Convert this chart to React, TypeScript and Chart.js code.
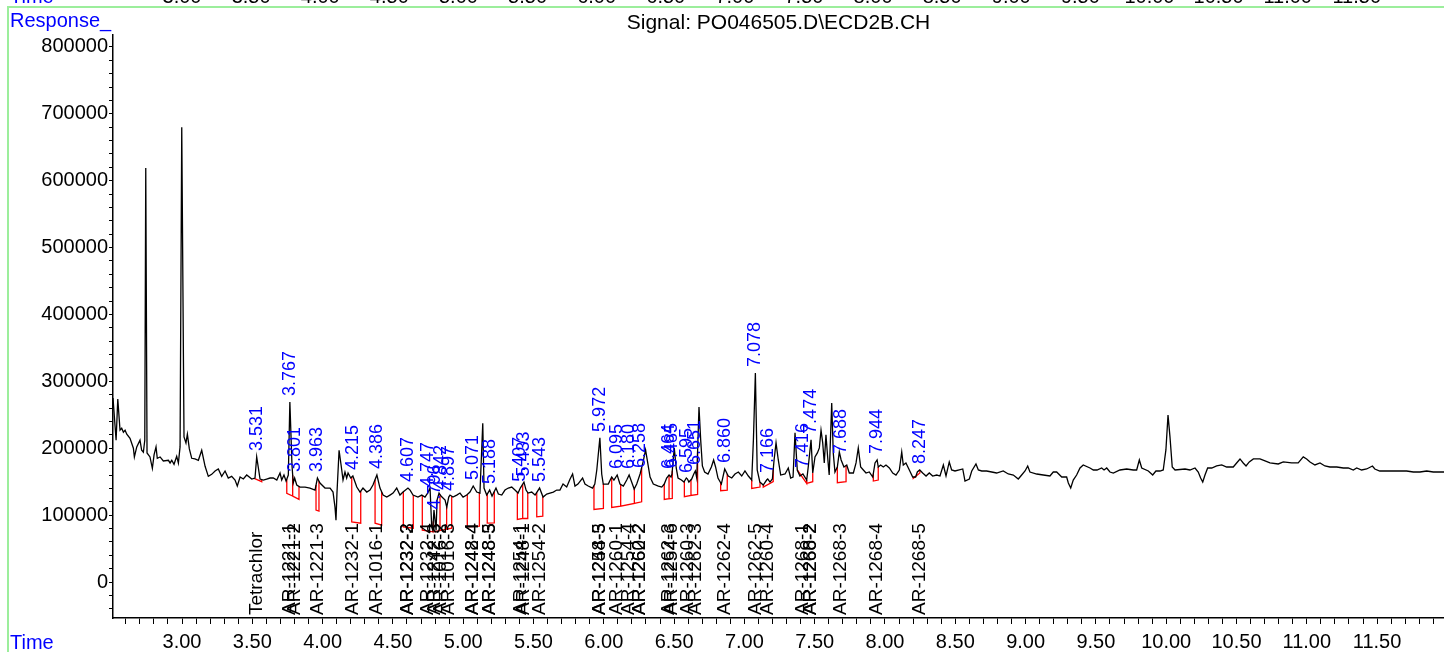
import React, { useEffect, useRef } from "react";
import { Chart, registerables } from "chart.js";

Chart.register(...registerables);

// ---- Data ----
// Chromatogram trace: [retention time (min), response]
const tracePoints: [number, number][] = [
  [2.509, 275000], [2.531, 212000], [2.543, 273500], [2.559, 227000], [2.571, 230000], [2.583, 224000],
  [2.595, 227000], [2.607, 221000], [2.630, 215000], [2.654, 200000], [2.661, 187000], [2.678, 202000],
  [2.701, 212000], [2.713, 197000], [2.725, 194000], [2.735, 212000], [2.742, 619000], [2.751, 193000],
  [2.772, 187000], [2.789, 170000], [2.801, 190000], [2.815, 202000], [2.824, 185000], [2.844, 187000],
  [2.867, 181000], [2.903, 182000], [2.915, 178000], [2.927, 182000], [2.943, 176000], [2.962, 188000],
  [2.974, 178000], [2.986, 202000], [2.998, 680000], [3.014, 217000], [3.028, 208000], [3.038, 221000],
  [3.052, 199000], [3.069, 185000], [3.092, 184000], [3.116, 182000], [3.140, 197000], [3.164, 173000],
  [3.187, 158000], [3.211, 161000], [3.235, 166000], [3.258, 169000], [3.282, 158000], [3.306, 166000],
  [3.329, 155500], [3.353, 158000], [3.377, 152500], [3.393, 143500], [3.413, 157000], [3.436, 154000],
  [3.460, 160000], [3.496, 154000], [3.519, 155500], [3.531, 187000], [3.555, 154000], [3.578, 152500],
  [3.602, 154000], [3.626, 155500], [3.649, 155500], [3.674, 152500], [3.697, 163000], [3.709, 152500],
  [3.725, 160000], [3.740, 151000], [3.756, 160000], [3.767, 269000], [3.782, 175000], [3.791, 148000],
  [3.801, 155500], [3.816, 145000], [3.839, 142000], [3.875, 142000], [3.910, 140500], [3.946, 137500],
  [3.963, 155500], [3.981, 148000], [4.017, 140500], [4.053, 140500], [4.074, 134500], [4.088, 112000],
  [4.095, 92500], [4.102, 133000], [4.117, 197000], [4.136, 167500], [4.145, 152500], [4.159, 164500],
  [4.171, 155500], [4.181, 163000], [4.200, 155500], [4.215, 158500], [4.243, 142000], [4.266, 134500],
  [4.287, 140500], [4.314, 134500], [4.337, 137500], [4.358, 145000], [4.386, 160000], [4.408, 140500],
  [4.430, 130000], [4.456, 127000], [4.479, 130000], [4.501, 133000], [4.527, 140500], [4.550, 130000],
  [4.572, 134500], [4.607, 140500], [4.622, 137500], [4.643, 130000], [4.678, 127000], [4.705, 130000],
  [4.728, 127000], [4.747, 133000], [4.764, 140500], [4.776, 82000], [4.783, 77500], [4.792, 107500],
  [4.807, 77500], [4.814, 122500], [4.828, 133000], [4.842, 128500], [4.871, 122500], [4.883, 112000],
  [4.897, 127000], [4.906, 130000], [4.927, 127000], [4.954, 130000], [4.977, 133000], [4.999, 127000],
  [5.025, 130000], [5.048, 134500], [5.071, 143500], [5.096, 134500], [5.119, 133000], [5.139, 237500],
  [5.148, 140500], [5.167, 130000], [5.188, 137500], [5.205, 128500], [5.233, 140500], [5.250, 131500],
  [5.274, 130000], [5.297, 137500], [5.321, 140500], [5.345, 142000], [5.368, 137500], [5.390, 133000],
  [5.406, 140500], [5.432, 149500], [5.447, 137500], [5.461, 133000], [5.487, 134500], [5.511, 130000],
  [5.543, 140500], [5.568, 127000], [5.594, 131500], [5.617, 133000], [5.641, 134500], [5.665, 137500],
  [5.688, 137500], [5.710, 146500], [5.736, 142000], [5.760, 154000], [5.778, 161500], [5.795, 143500],
  [5.816, 146500], [5.849, 155500], [5.866, 146500], [5.889, 143500], [5.920, 140500], [5.936, 146500],
  [5.950, 167500], [5.972, 215500], [5.985, 161500], [5.996, 146500], [6.032, 146500], [6.056, 157000],
  [6.072, 152500], [6.095, 160000], [6.115, 146500], [6.139, 143500], [6.163, 152500], [6.180, 160000],
  [6.198, 149500], [6.216, 139000], [6.234, 146500], [6.258, 161500], [6.281, 181000], [6.297, 197500],
  [6.310, 181000], [6.329, 157000], [6.352, 146500], [6.388, 143500], [6.412, 142000], [6.430, 146500],
  [6.447, 155500], [6.464, 160000], [6.478, 157000], [6.485, 161500], [6.501, 200500], [6.515, 170500],
  [6.528, 155500], [6.552, 152500], [6.570, 149500], [6.587, 155500], [6.595, 154000], [6.605, 149500],
  [6.625, 154000], [6.640, 161500], [6.651, 166000], [6.661, 155500], [6.677, 261500], [6.689, 212500],
  [6.701, 173500], [6.717, 164500], [6.741, 161500], [6.765, 172000], [6.781, 182500], [6.795, 172000],
  [6.812, 155500], [6.836, 146500], [6.860, 169000], [6.885, 158500], [6.910, 155500], [6.933, 161500],
  [6.957, 164500], [6.981, 158500], [7.004, 166000], [7.028, 158500], [7.052, 152500], [7.064, 212500],
  [7.078, 312500], [7.091, 167500], [7.110, 149500], [7.134, 145000], [7.158, 152500], [7.166, 154000],
  [7.182, 149500], [7.199, 154000], [7.211, 182500], [7.225, 208000], [7.241, 182500], [7.258, 160000],
  [7.289, 161500], [7.312, 170500], [7.329, 155500], [7.346, 157000], [7.360, 223000], [7.376, 167500],
  [7.395, 158500], [7.416, 161500], [7.443, 152500], [7.454, 172000], [7.474, 212500], [7.486, 163000],
  [7.502, 187000], [7.519, 193000], [7.533, 200500], [7.545, 227000], [7.557, 208000], [7.568, 178000],
  [7.580, 220000], [7.592, 187000], [7.603, 160000], [7.621, 267500], [7.632, 193000], [7.644, 164500],
  [7.661, 172000], [7.675, 194500], [7.688, 182500], [7.708, 172000], [7.728, 175000], [7.746, 163000],
  [7.775, 163000], [7.794, 178000], [7.810, 200500], [7.827, 172000], [7.846, 167500], [7.865, 163000],
  [7.888, 164500], [7.913, 157000], [7.929, 178000], [7.944, 182500], [7.952, 172000], [7.969, 175000],
  [7.988, 172000], [8.007, 175000], [8.031, 170500], [8.055, 163000], [8.078, 160000], [8.102, 167500],
  [8.119, 194500], [8.130, 175000], [8.149, 178000], [8.173, 167500], [8.197, 157000], [8.218, 157000],
  [8.230, 164500], [8.247, 167500], [8.268, 163000], [8.292, 158500], [8.315, 163000], [8.339, 158500],
  [8.368, 160000], [8.391, 158500], [8.415, 175000], [8.434, 158500], [8.457, 179500], [8.474, 167500],
  [8.498, 166000], [8.553, 169000], [8.569, 151000], [8.600, 154000], [8.617, 166000], [8.647, 176500],
  [8.664, 167500], [8.688, 166000], [8.723, 166000], [8.759, 164500], [8.794, 163000], [8.841, 166000],
  [8.877, 161500], [8.913, 160000], [8.948, 154000], [8.972, 160000], [8.996, 166000], [9.015, 173500],
  [9.031, 164500], [9.079, 161500], [9.126, 160000], [9.173, 158500], [9.197, 164500], [9.221, 164500],
  [9.257, 157000], [9.292, 157000], [9.304, 148000], [9.321, 140500], [9.339, 152500], [9.363, 160000],
  [9.387, 170500], [9.410, 175000], [9.458, 170500], [9.482, 167500], [9.508, 167500], [9.541, 170500],
  [9.558, 167500], [9.577, 170500], [9.600, 164500], [9.624, 163000], [9.671, 167500], [9.719, 169000],
  [9.766, 167500], [9.790, 167500], [9.809, 182500], [9.826, 170500], [9.873, 166000], [9.904, 160000],
  [9.927, 166000], [9.956, 166000], [9.979, 167500], [9.998, 197500], [10.013, 249500], [10.027, 217000],
  [10.043, 172000], [10.063, 167500], [10.134, 169000], [10.169, 167500], [10.205, 170500], [10.228, 164500],
  [10.245, 155500], [10.260, 149500], [10.276, 160000], [10.295, 170500], [10.324, 170500], [10.359, 173500],
  [10.395, 175000], [10.430, 172000], [10.477, 172000], [10.501, 178000], [10.525, 184000], [10.548, 178000],
  [10.568, 173500], [10.591, 179500], [10.620, 184000], [10.667, 184000], [10.703, 181000], [10.738, 178000],
  [10.797, 176500], [10.833, 179500], [10.892, 178000], [10.939, 178000], [10.975, 187000], [10.999, 184000],
  [11.023, 179500], [11.058, 175000], [11.094, 178000], [11.129, 173500], [11.165, 172000], [11.213, 172000],
  [11.260, 170500], [11.295, 170500], [11.331, 167500], [11.355, 170500], [11.390, 167500], [11.426, 169000],
  [11.467, 173500], [11.484, 169000], [11.519, 166000], [11.567, 166000], [11.615, 166000], [11.663, 166000],
  [11.710, 166000], [11.758, 164500], [11.805, 164500], [11.853, 166000], [11.900, 164500], [11.948, 164500],
  [11.976, 164500],
];

// Integration baselines: [start time, start response, end time, end response]
const integrationBaselines: [number, number, number, number][] = [
  [3.512, 155000, 3.567, 150000], [3.745, 132500, 3.787, 128500], [3.787, 128500, 3.832, 123500],
  [3.953, 107500, 3.974, 106000], [4.207, 90000, 4.271, 88000], [4.373, 88000, 4.420, 85000],
  [4.574, 82500, 4.645, 80500], [4.709, 77500, 4.787, 75000], [4.787, 75000, 4.835, 77000],
  [4.835, 77000, 4.882, 79000], [4.882, 79000, 4.918, 80500], [5.029, 82500, 5.115, 83500],
  [5.171, 88000, 5.221, 88500], [5.385, 93500, 5.423, 95000], [5.423, 95000, 5.459, 95000],
  [5.523, 97500, 5.566, 98500], [5.930, 108500, 5.997, 110000], [6.056, 111500, 6.120, 113500],
  [6.120, 113500, 6.217, 117500], [6.217, 117500, 6.269, 120000], [6.430, 123500, 6.464, 124500],
  [6.464, 124500, 6.487, 125000], [6.573, 127500, 6.620, 129500], [6.620, 129500, 6.667, 131000],
  [6.831, 136500, 6.878, 137500], [7.052, 140000, 7.111, 142000], [7.134, 142000, 7.205, 150000],
  [7.376, 167500, 7.443, 147500], [7.443, 147500, 7.486, 150000], [7.661, 148500, 7.723, 150000],
  [7.917, 151000, 7.952, 152500], [8.201, 155000, 8.248, 163000],
];

// Peak retention-time labels (blue)
const peakTimes = [
  3.531, 3.767, 3.801, 3.963, 4.215, 4.386, 4.607, 4.747, 4.796, 4.842, 4.897, 5.071, 5.188,
  5.407, 5.433, 5.543, 5.972, 6.095, 6.180, 6.258, 6.464, 6.485, 6.595, 6.651, 6.860, 7.078,
  7.166, 7.416, 7.474, 7.688, 7.944, 8.247,
];
const peakLabels = [
  "3.531", "3.767", "3.801", "3.963", "4.215", "4.386", "4.607", "4.747", "4.796", "4.842", "4.897",
  "5.071", "5.188", "5.407", "5.433", "5.543", "5.972", "6.095", "6.180", "6.258", "6.464", "6.485",
  "6.595", "6.651", "6.860", "7.078", "7.166", "7.416", "7.474", "7.688", "7.944", "8.247",
];

// Compound names (black)
const compoundTimes = [
  3.531, 3.767, 3.801, 3.963, 4.215, 4.386, 4.607, 4.607, 4.747, 4.796, 4.842, 4.897, 5.071, 5.071,
  5.188, 5.188, 5.407, 5.433, 5.543, 5.972, 5.972, 6.095, 6.180, 6.258, 6.258, 6.464, 6.485, 6.595,
  6.651, 6.860, 7.078, 7.166, 7.416, 7.474, 7.474, 7.688, 7.944, 8.247,
];
const compoundNames = [
  "Tetrachlor", "AR-1221-1", "AR-1221-2", "AR-1221-3", "AR-1232-1", "AR-1016-1", "AR-1232-2", "AR-1232-3",
  "AR-1232-4", "AR-1242-3", "AR-1016-2", "AR-1016-3", "AR-1248-4", "AR-1242-4", "AR-1248-5", "AR-1248-3",
  "AR-1254-1", "AR-1248-1", "AR-1254-2", "AR-1254-3", "AR-1248-5", "AR-1260-1", "AR-1254-4", "AR-1260-2",
  "AR-1262-2", "AR-1262-3", "AR-1254-6", "AR-1260-3", "AR-1262-3", "AR-1262-4", "AR-1262-5", "AR-1260-4",
  "AR-1268-1", "AR-1268-2", "AR-1260-2", "AR-1268-3", "AR-1268-4", "AR-1268-5",
];

// Axes
const xTickValues = [3.0, 3.5, 4.0, 4.5, 5.0, 5.5, 6.0, 6.5, 7.0, 7.5, 8.0, 8.5, 9.0, 9.5, 10.0, 10.5, 11.0, 11.5];
const xTickLabels = ["3.00", "3.50", "4.00", "4.50", "5.00", "5.50", "6.00", "6.50", "7.00", "7.50", "8.00",
  "8.50", "9.00", "9.50", "10.00", "10.50", "11.00", "11.50"];
const yTickValues = [0, 100000, 200000, 300000, 400000, 500000, 600000, 700000, 800000];
const yTickLabels = ["0", "100000", "200000", "300000", "400000", "500000", "600000", "700000", "800000"];

const X_MIN = 2.509;
const X_MAX = 11.976;
const Y_MIN = -53800;
const Y_MAX = 817900;

const FONT = '"Liberation Sans", Arial, sans-serif';
const BLUE = "#0000ff";

function traceAt(t: number): number {
  for (let i = 0; i < tracePoints.length - 1; i++) {
    const [t0, r0] = tracePoints[i];
    const [t1, r1] = tracePoints[i + 1];
    if (t >= t0 && t <= t1) {
      return r0 + ((r1 - r0) * (t - t0)) / (t1 - t0);
    }
  }
  return tracePoints[tracePoints.length - 1][1];
}

function drawRotated(ctx: CanvasRenderingContext2D, text: string, x: number, y: number) {
  ctx.save();
  ctx.translate(x, y);
  ctx.rotate(-Math.PI / 2);
  ctx.textAlign = "left";
  ctx.textBaseline = "middle";
  ctx.fillText(text, 0, 0);
  ctx.restore();
}

const overlayPlugin = {
  id: "chromOverlay",
  afterDatasetsDraw(chart: any) {
    const { ctx, chartArea } = chart;
    const xs = chart.scales.x;
    const ys = chart.scales.y;
    ctx.save();
    ctx.fillStyle = BLUE;
    ctx.font = `18px ${FONT}`;
    peakTimes.forEach((t, i) => {
      const px = xs.getPixelForValue(t);
      const py = ys.getPixelForValue(traceAt(t)) - 6;
      drawRotated(ctx, peakLabels[i], px, py);
    });
    ctx.fillStyle = "#000";
    ctx.font = `19px ${FONT}`;
    compoundTimes.forEach((t, i) => {
      drawRotated(ctx, compoundNames[i], xs.getPixelForValue(t), chartArea.bottom - 3);
    });
    ctx.restore();
  },
  afterDraw(chart: any) {
    const { ctx, chartArea, width, height } = chart;
    const xs = chart.scales.x;
    ctx.save();
    // light green page frame
    ctx.strokeStyle = "#9cee9c";
    ctx.lineWidth = 2;
    ctx.beginPath();
    ctx.moveTo(8, height);
    ctx.lineTo(8, 7);
    ctx.lineTo(width, 7);
    ctx.stroke();

    // clipped bottom of the previous panel's time axis
    ctx.font = `20px ${FONT}`;
    ctx.textBaseline = "alphabetic";
    ctx.fillStyle = BLUE;
    ctx.textAlign = "left";
    ctx.fillText("Time", 10, 3);
    ctx.fillStyle = "#000";
    ctx.textAlign = "center";
    const p3 = xs.getPixelForValue(3.0);
    xTickValues.forEach((v, i) => {
      const px = p3 + (xs.getPixelForValue(v) - p3) * 0.983;
      ctx.fillText(xTickLabels[i], px, 3);
    });

    // titles
    ctx.fillStyle = BLUE;
    ctx.textAlign = "left";
    ctx.fillText("Response_", 10, 27);
    ctx.fillText("Time", 10, 649);
    ctx.fillStyle = "#000";
    ctx.textAlign = "center";
    ctx.font = `21px ${FONT}`;
    ctx.fillText("Signal: PO046505.D\\ECD2B.CH", (chartArea.left + chartArea.right) / 2, 29);
    ctx.restore();
  },
};

export default function App() {
  const canvasRef = useRef<HTMLCanvasElement | null>(null);

  useEffect(() => {
    const canvas = canvasRef.current;
    if (!canvas) return;

    const traceData = tracePoints.map(([t, r]) => ({ x: t, y: r }));
    const baselineData: { x: number; y: number | null }[] = [];
    integrationBaselines.forEach(([ts, bs, te, be]) => {
      baselineData.push({ x: ts, y: traceAt(ts) });
      baselineData.push({ x: ts, y: bs });
      baselineData.push({ x: te, y: be });
      baselineData.push({ x: te, y: traceAt(te) });
      baselineData.push({ x: te, y: null });
    });

    const xMinor: number[] = [];
    for (let k = 26; k <= 119; k++) xMinor.push(k / 10);
    const yMinor: number[] = [];
    for (let k = -2; k <= 40; k++) yMinor.push(k * 20000);

    const chart = new Chart(canvas, {
      type: "line",
      data: {
        datasets: [
          {
            label: "Baselines",
            data: baselineData as any,
            borderColor: "#ff0000",
            borderWidth: 1.3,
            pointRadius: 0,
            tension: 0,
            spanGaps: false,
            order: 2,
          },
          {
            label: "Signal",
            data: traceData,
            borderColor: "#000000",
            borderWidth: 1.3,
            pointRadius: 0,
            tension: 0,
            order: 1,
          },
        ],
      },
      options: {
        animation: false,
        responsive: false,
        maintainAspectRatio: false,
        devicePixelRatio: 1,
        events: [],
        layout: { padding: { top: 35, right: 0, left: 0, bottom: 0 } },
        plugins: {
          legend: { display: false },
          tooltip: { enabled: false },
          title: { display: false },
        },
        scales: {
          x: {
            type: "linear",
            min: X_MIN,
            max: X_MAX,
            afterBuildTicks: (scale: any) => {
              scale.ticks = xMinor.map((v) => ({ value: v }));
            },
            afterFit: (scale: any) => {
              scale.height = 34;
            },
            ticks: {
              autoSkip: false,
              maxRotation: 0,
              minRotation: 0,
              padding: 6,
              color: "#000",
              font: { family: FONT, size: 20 },
              callback: (value: any) => {
                const idx = xTickValues.findIndex((v) => Math.abs(v - Number(value)) < 1e-6);
                return idx >= 0 ? xTickLabels[idx] : "";
              },
            },
            grid: { drawOnChartArea: false, drawTicks: true, tickLength: 6, color: "#000", lineWidth: 1 },
            border: { display: true, color: "#000", width: 1.5 },
          },
          y: {
            type: "linear",
            min: Y_MIN,
            max: Y_MAX,
            afterBuildTicks: (scale: any) => {
              scale.ticks = yMinor.map((v) => ({ value: v }));
            },
            afterFit: (scale: any) => {
              scale.width = 113;
            },
            ticks: {
              autoSkip: false,
              padding: 1,
              color: "#000",
              font: { family: FONT, size: 20 },
              callback: (value: any) => {
                const idx = yTickValues.findIndex((v) => Math.abs(v - Number(value)) < 1e-6);
                return idx >= 0 ? yTickLabels[idx] : "";
              },
            },
            grid: { drawOnChartArea: false, drawTicks: true, tickLength: 4, color: "#000", lineWidth: 1 },
            border: { display: true, color: "#000", width: 1.5 },
          },
        },
      },
      plugins: [overlayPlugin],
    });

    return () => {
      chart.destroy();
    };
  }, []);

  return (
    <div style={{ position: "absolute", left: 0, top: 0, width: 1444, height: 652, background: "#fff" }}>
      <canvas ref={canvasRef} width={1444} height={652} style={{ width: 1444, height: 652, display: "block" }} />
    </div>
  );
}
